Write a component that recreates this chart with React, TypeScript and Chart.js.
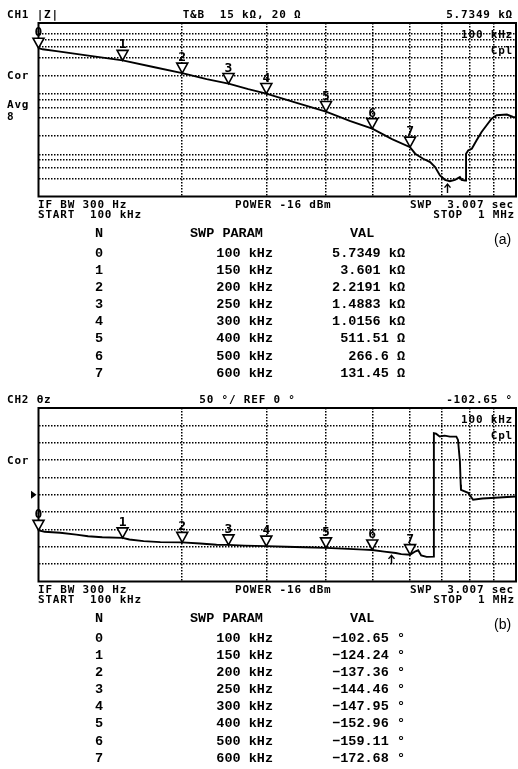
import { useEffect, useRef } from "react";
import { Chart, registerables } from "chart.js";

Chart.register(...registerables);

// Marker sweep points (kHz) and their readouts
const markerKHz = [100, 150, 200, 250, 300, 400, 500, 600];
const markerZOhm = [5734.9, 3601, 2219.1, 1488.3, 1015.6, 511.51, 266.6, 131.45];
const markerThetaDeg = [-102.65, -124.24, -137.36, -144.46, -147.95, -152.96, -159.11, -172.68];

// |Z| trace (ohm) vs frequency (kHz)
const zTraceKHz = [
  100, 102, 110, 125, 150, 175, 200, 225, 250, 275, 300, 350, 400, 450, 500, 550, 600,
  615, 639, 661, 677, 693, 710, 727, 745, 763, 769, 782, 786, 786, 794, 808, 827, 847,
  868, 889, 911, 957, 986, 1000,
];
const zTraceOhm = [
  5734.9, 5500, 5090, 4405, 3601, 2770, 2219.1, 1760, 1488.3, 1205, 1015.6, 700, 511.51,
  355, 266.6, 178, 131.45, 102.4, 84.5, 74.3, 61.4, 44.7, 37.8, 35.9, 37.8, 41.9, 37.8,
  36.9, 36.9, 102.4, 116.2, 124.1, 170.6, 234, 302.6, 391, 443.6, 455.7, 415.7, 410,
];

// θz trace (degrees) vs frequency (kHz)
const thetaTraceKHz = [
  100, 103, 111, 120, 127, 136, 150, 155, 166, 180, 200, 218, 236, 250, 270, 300, 330,
  360, 400, 445, 480, 500, 530, 560, 575, 600, 616, 624, 633, 650, 673, 673, 680, 692,
  709, 727, 750, 756, 763, 766, 767, 794, 813, 850, 887, 940, 1000,
];
const thetaTraceDeg = [
  -102.65, -106.5, -109.5, -115, -119.5, -122.5, -124.24, -129, -133.5, -136.5, -137.36,
  -140.5, -144, -144.46, -146.5, -147.95, -150, -151.5, -152.96, -156, -158, -159.11,
  -164, -168, -171, -172.68, -163, -160, -175, -179, -178.5, 177.3, 176, 168, 170.4,
  167.5, 167.5, 158, 96, 29, 14, 5.7, -14.4, -11, -9.5, -7, -5,
];

// Graticule
const freqGridKHz = [200, 300, 400, 500, 600, 700, 800, 900];
const zGridOhm = [40, 60, 80, 100, 200, 400, 600, 800, 1000, 2000, 4000, 6000, 8000, 10000];
const thetaGridDeg = [-200, -150, -100, -50, 0, 50, 100, 150, 200];

// Scale limits
const sweepKHz = [100, 1000];
const zScaleOhm = [20, 15000];
const thetaScaleDeg = [-250, 250];
const thetaRefDeg = 0;

// Search arrows
const zArrowKHz = 718;
const zArrowOhm = 36;
const thetaArrowKHz = 546;
const thetaArrowDeg = -166;

const W = 518;

type Overlay = {
  mKHz: number[];
  mVals: number[];
  arrowKHz: number;
  arrowVal: number;
  refVal?: number;
};

function makeOverlay(o: Overlay) {
  return {
    id: "analyzerOverlay",
    afterDatasetsDraw(chart: any) {
      const { ctx, chartArea: a, scales } = chart;
      const xs = scales.x;
      const ys = scales.y;
      ctx.save();
      ctx.strokeStyle = "#000";
      ctx.fillStyle = "#000";
      ctx.lineWidth = 2;
      ctx.strokeRect(a.left, a.top, a.right - a.left, a.bottom - a.top);

      // numbered marker triangles
      ctx.font = "bold 13px 'DejaVu Sans Mono', monospace";
      ctx.textAlign = "center";
      ctx.textBaseline = "alphabetic";
      ctx.lineWidth = 1.6;
      o.mKHz.forEach((f, i) => {
        const px = xs.getPixelForValue(f);
        const py = ys.getPixelForValue(o.mVals[i]);
        ctx.beginPath();
        ctx.moveTo(px, py);
        ctx.lineTo(px - 5.5, py - 10);
        ctx.lineTo(px + 5.5, py - 10);
        ctx.closePath();
        ctx.fillStyle = "#fff";
        ctx.fill();
        ctx.stroke();
        ctx.fillStyle = "#000";
        ctx.fillText(String(i), px, py - 12);
      });

      // search arrow under the trace
      const ax = Math.round(xs.getPixelForValue(o.arrowKHz)) + 0.5;
      const ay = ys.getPixelForValue(o.arrowVal);
      ctx.lineWidth = 1.4;
      ctx.beginPath();
      ctx.moveTo(ax, ay + 3);
      ctx.lineTo(ax, ay + 12);
      ctx.moveTo(ax - 3, ay + 6.5);
      ctx.lineTo(ax, ay + 3);
      ctx.lineTo(ax + 3, ay + 6.5);
      ctx.stroke();

      // reference position pointer
      if (o.refVal !== undefined) {
        const ry = ys.getPixelForValue(o.refVal);
        ctx.beginPath();
        ctx.moveTo(a.left - 2, ry);
        ctx.lineTo(a.left - 7.5, ry - 4);
        ctx.lineTo(a.left - 7.5, ry + 4);
        ctx.closePath();
        ctx.fill();
      }
      ctx.restore();
    },
  };
}

type TraceProps = Overlay & {
  kHz: number[];
  vals: number[];
  yType: "logarithmic" | "linear";
  yLim: number[];
  yGrid: number[];
};

function TraceChart(p: TraceProps) {
  const ref = useRef<HTMLCanvasElement>(null);
  useEffect(() => {
    const grid = { color: "#000", lineWidth: 1.5, drawTicks: false };
    const border = { display: false, dash: [1.5, 1.5] };
    const chart = new Chart(ref.current as HTMLCanvasElement, {
      type: "line",
      data: {
        datasets: [
          {
            data: p.kHz.map((f, i) => ({ x: f, y: p.vals[i] })),
            borderColor: "#000",
            borderWidth: 1.9,
            pointRadius: 0,
            tension: 0,
            fill: false,
          },
        ],
      },
      options: {
        animation: false,
        responsive: false,
        events: [],
        layout: { padding: { left: 38.5, top: 23, right: 2, bottom: 3.5 } },
        plugins: { legend: { display: false }, tooltip: { enabled: false } },
        scales: {
          x: {
            type: "logarithmic",
            min: sweepKHz[0],
            max: sweepKHz[1],
            ticks: { display: false },
            grid,
            border,
            afterBuildTicks: (s: any) => {
              s.ticks = freqGridKHz.map((v) => ({ value: v }));
            },
          },
          y: {
            type: p.yType,
            min: p.yLim[0],
            max: p.yLim[1],
            ticks: { display: false },
            grid,
            border,
            afterBuildTicks: (s: any) => {
              s.ticks = p.yGrid.map((v) => ({ value: v }));
            },
          },
        },
      } as any,
      plugins: [makeOverlay(p)],
    });
    return () => chart.destroy();
  }, []);
  return (
    <canvas
      ref={ref}
      width={W}
      height={200}
      style={{ position: "absolute", left: 0, top: 0, width: W, height: 200 }}
    />
  );
}

type FontSpec = { css: Record<string, any>; mid: number };

const INSTR: FontSpec = {
  css: {
    fontFamily: "'DejaVu Sans Mono', monospace",
    fontWeight: 700,
    fontSize: "11px",
    letterSpacing: "0.8px",
    lineHeight: "12px",
  },
  mid: 5.9,
};
const TABLE: FontSpec = {
  css: {
    fontFamily: "'Liberation Mono', monospace",
    fontWeight: 700,
    fontSize: "13.5px",
    lineHeight: "16px",
  },
  mid: 7.3,
};
const CAPTION: FontSpec = {
  css: { fontFamily: "'Liberation Sans', Arial, sans-serif", fontSize: "14px", lineHeight: "16px" },
  mid: 8,
};

function Txt(props: { x?: number; xr?: number; y: number; f: FontSpec; children: any }) {
  const { x, xr, y, f, children } = props;
  const style: Record<string, any> = {
    position: "absolute",
    top: y - f.mid,
    whiteSpace: "pre",
    color: "#000",
    ...f.css,
  };
  if (xr !== undefined) style.right = W - xr;
  else style.left = x;
  return <div style={style}>{children}</div>;
}

const trimZeros = (s: string) => (s.includes(".") ? s.replace(/0+$/, "").replace(/\.$/, "") : s);
const fmtOhm = (v: number) =>
  v >= 1000 ? `${trimZeros((v / 1000).toPrecision(5))} kΩ` : `${trimZeros(v.toPrecision(5))} Ω`;
const fmtDeg = (v: number, minus: string) => `${v < 0 ? minus : ""}${Math.abs(v).toFixed(2)} °`;

type PanelProps = {
  top: number;
  channel: string;
  scaleText: string;
  scaleX: number;
  readout: string;
  sideLabels: [string, number][];
  rows: string[];
  caption: string;
  chart: TraceProps;
};

function Panel(p: PanelProps) {
  const rowY0 = 253;
  const rowStep = 17.14;
  return (
    <div style={{ position: "absolute", left: 0, top: p.top, width: W, height: 385 }}>
      <TraceChart {...p.chart} />
      <Txt x={7} y={15} f={INSTR}>{p.channel}</Txt>
      <Txt x={p.scaleX} y={15} f={INSTR}>{p.scaleText}</Txt>
      <Txt xr={513} y={15} f={INSTR}>{p.readout}</Txt>
      {p.sideLabels.map(([t, y]) => (
        <Txt key={t} x={7} y={y} f={INSTR}>{t}</Txt>
      ))}
      <Txt xr={513} y={35} f={INSTR}>100 kHz</Txt>
      <Txt xr={513} y={50.5} f={INSTR}>Cpl</Txt>
      <Txt x={38} y={205} f={INSTR}>IF BW 300 Hz</Txt>
      <Txt x={38} y={214.5} f={INSTR}>START  100 kHz</Txt>
      <Txt x={235} y={205} f={INSTR}>POWER -16 dBm</Txt>
      <Txt xr={514} y={205} f={INSTR}>SWP  3.007 sec</Txt>
      <Txt xr={515} y={214.5} f={INSTR}>STOP  1 MHz</Txt>

      <Txt x={95} y={233} f={TABLE}>N</Txt>
      <Txt x={190} y={233} f={TABLE}>SWP PARAM</Txt>
      <Txt x={350} y={233} f={TABLE}>VAL</Txt>
      {markerKHz.map((f, i) => (
        <div key={i}>
          <Txt x={95} y={rowY0 + i * rowStep} f={TABLE}>{String(i)}</Txt>
          <Txt xr={273} y={rowY0 + i * rowStep} f={TABLE}>{`${f} kHz`}</Txt>
          <Txt xr={405} y={rowY0 + i * rowStep} f={TABLE}>{p.rows[i]}</Txt>
        </div>
      ))}
      <Txt x={494} y={239} f={CAPTION}>{p.caption}</Txt>
    </div>
  );
}

export default function App() {
  return (
    <div
      style={{
        position: "absolute",
        left: 0,
        top: 0,
        width: W,
        height: 769,
        background: "#fff",
        overflow: "hidden",
      }}
    >
      <Panel
        top={0}
        channel="CH1 |Z|"
        scaleText={`T&B  15 kΩ, 20 Ω`}
        scaleX={182.7}
        readout={fmtOhm(markerZOhm[0])}
        sideLabels={[
          ["Cor", 76],
          ["Avg", 104.5],
          ["8", 117],
        ]}
        rows={markerZOhm.map(fmtOhm)}
        caption="(a)"
        chart={{
          kHz: zTraceKHz,
          vals: zTraceOhm,
          yType: "logarithmic",
          yLim: zScaleOhm,
          yGrid: zGridOhm,
          mKHz: markerKHz,
          mVals: markerZOhm,
          arrowKHz: zArrowKHz,
          arrowVal: zArrowOhm,
        }}
      />
      <Panel
        top={385}
        channel="CH2 θz"
        scaleText="50 °/ REF 0 °"
        scaleX={199.3}
        readout={fmtDeg(markerThetaDeg[0], "-")}
        sideLabels={[["Cor", 76]]}
        rows={markerThetaDeg.map((v) => fmtDeg(v, "−"))}
        caption="(b)"
        chart={{
          kHz: thetaTraceKHz,
          vals: thetaTraceDeg,
          yType: "linear",
          yLim: thetaScaleDeg,
          yGrid: thetaGridDeg,
          mKHz: markerKHz,
          mVals: markerThetaDeg,
          arrowKHz: thetaArrowKHz,
          arrowVal: thetaArrowDeg,
          refVal: thetaRefDeg,
        }}
      />
    </div>
  );
}
